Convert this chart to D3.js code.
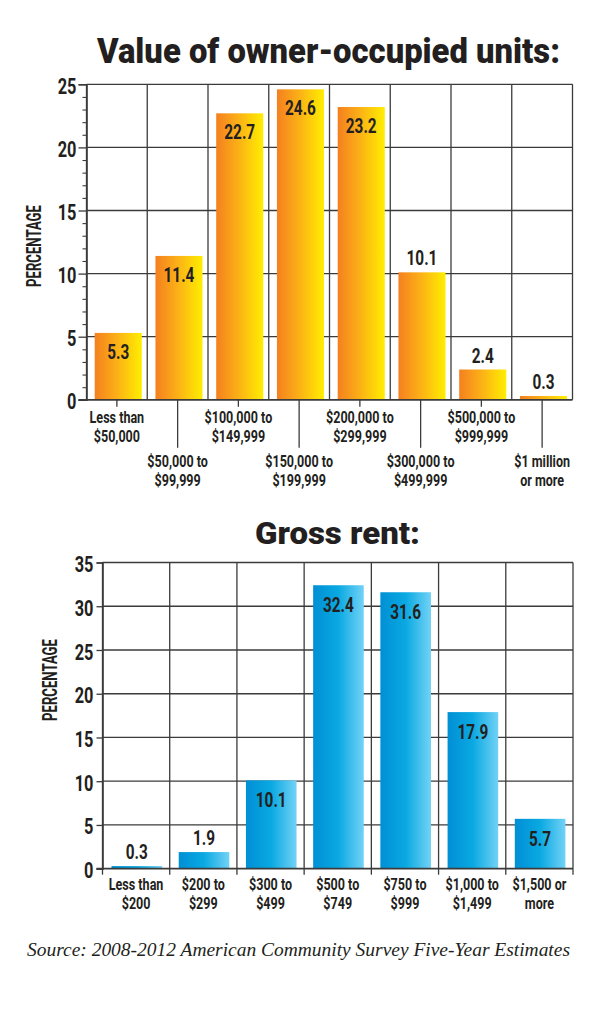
<!DOCTYPE html>
<html>
<head>
<meta charset="utf-8">
<script src="https://cdn.jsdelivr.net/npm/d3@7"></script>
<style>
  html, body { margin: 0; padding: 0; background: #fff; }
  svg { display: block; }
</style>
</head>
<body>
<svg id="chart" width="600" height="1009"></svg>
<script>
// ---------- DATA ----------
const ownerTitle = "Value of owner-occupied units:";
const ownerCategories = [
  "Less than|$50,000", "$50,000 to|$99,999", "$100,000 to|$149,999", "$150,000 to|$199,999",
  "$200,000 to|$299,999", "$300,000 to|$499,999", "$500,000 to|$999,999", "$1 million|or more"
];
const ownerValues = [5.3, 11.4, 22.7, 24.6, 23.2, 10.1, 2.4, 0.3];
const ownerLabelInside = [true, true, true, true, true, false, false, false];
const ownerTicks = [0, 5, 10, 15, 20, 25];
const ownerMinorTicks = d3.range(0, 26, 1);

const rentTitle = "Gross rent:";
const rentCategories = [
  "Less than|$200", "$200 to|$299", "$300 to|$499", "$500 to|$749",
  "$750 to|$999", "$1,000 to|$1,499", "$1,500 or|more"
];
const rentValues = [0.3, 1.9, 10.1, 32.4, 31.6, 17.9, 5.7];
const rentLabelInside = [false, false, true, true, true, true, true];
const rentTicks = [0, 5, 10, 15, 20, 25, 30, 35];

const axisTitle = "PERCENTAGE";
const sourceText = "Source: 2008-2012 American Community Survey Five-Year Estimates";

// ---------- STYLE ----------
const ink = "#231f20";
const gridColor = "#3b3b3b";
const condFont = "Roboto, 'Liberation Sans', Arial, sans-serif";

const svg = d3.select("#chart");
const defs = svg.append("defs");

function gradient(id, stops) {
  const g = defs.append("linearGradient").attr("id", id)
    .attr("x1", "0%").attr("x2", "100%").attr("y1", "0%").attr("y2", "0%");
  stops.forEach(s => g.append("stop").attr("offset", s[0]).attr("stop-color", s[1]));
}
gradient("orangeGrad", [["0%", "#f4801f"], ["45%", "#fbae17"], ["100%", "#ffee00"]]);
gradient("blueGrad", [["0%", "#008fd5"], ["50%", "#0aa9e2"], ["100%", "#72d2f6"]]);

function condense(sel, f) {
  sel.each(function () {
    const l = this.getComputedTextLength();
    this.setAttribute("textLength", l * f);
    this.setAttribute("lengthAdjust", "spacingAndGlyphs");
  });
}

function drawChart(cfg) {
  const g = svg.append("g");
  const x = d3.scaleBand().domain(cfg.categories).range([cfg.left, cfg.right]).padding(0);
  const y = d3.scaleLinear().domain([0, cfg.max]).range([cfg.bottom, cfg.top]);
  const bw = x.bandwidth();

  // title
  g.append("text")
    .attr("transform", `translate(${cfg.titleX},${cfg.titleY}) scale(1,${cfg.titleStretch})`)
    .attr("text-anchor", "middle")
    .attr("font-family", "Roboto, 'Liberation Sans', sans-serif")
    .attr("font-weight", 900)
    .attr("font-size", cfg.titleSize)
    .attr("fill", ink)
    .attr("textLength", cfg.titleLen)
    .attr("lengthAdjust", "spacingAndGlyphs")
    .text(cfg.title);

  // horizontal gridlines
  g.append("g").selectAll("line").data(cfg.ticks.filter(t => t > 0)).join("line")
    .attr("x1", cfg.left).attr("x2", cfg.right)
    .attr("y1", d => y(d)).attr("y2", d => y(d))
    .attr("stroke", gridColor).attr("stroke-width", 1.3);

  // vertical gridlines (band boundaries + right edge)
  const bounds = cfg.categories.map(c => x(c)).concat([cfg.right]);
  g.append("g").selectAll("line").data(bounds).join("line")
    .attr("x1", d => d).attr("x2", d => d)
    .attr("y1", cfg.top).attr("y2", cfg.bottom)
    .attr("stroke", gridColor).attr("stroke-width", 1.3);

  // minor ticks
  if (cfg.minorTicks) {
    const minorAxis = d3.axisLeft(y).tickValues(cfg.minorTicks.filter(t => cfg.ticks.indexOf(t) < 0))
      .tickSize(4).tickFormat("");
    const ma = g.append("g").attr("transform", `translate(${cfg.left},0)`).call(minorAxis);
    ma.select(".domain").remove();
    ma.selectAll("line").attr("stroke", gridColor).attr("stroke-width", 1.1);
  }

  // y axis
  const yAxis = d3.axisLeft(y).tickValues(cfg.ticks).tickSize(cfg.majorTick).tickPadding(cfg.tickPad);
  const ya = g.append("g").attr("transform", `translate(${cfg.left},0)`).call(yAxis);
  ya.select(".domain").attr("stroke", gridColor).attr("stroke-width", 1.6);
  ya.selectAll(".tick line").attr("stroke", gridColor).attr("stroke-width", 1.3);
  ya.selectAll(".tick text")
    .attr("font-family", condFont).attr("font-weight", 700)
    .attr("font-size", 21.5).attr("fill", ink).attr("dy", "0.42em")
    .call(condense, 0.76);

  // axis title
  g.append("text")
    .attr("transform", `translate(${cfg.axisTitleX},${cfg.axisTitleY}) rotate(-90)`)
    .attr("text-anchor", "middle")
    .attr("font-family", condFont).attr("font-weight", 700)
    .attr("font-size", 20).attr("fill", ink)
    .attr("textLength", 82).attr("lengthAdjust", "spacingAndGlyphs")
    .text(axisTitle);

  // bars
  const data = cfg.categories.map((c, i) => ({ c, v: cfg.values[i], inside: cfg.inside[i] }));
  g.append("g").selectAll("rect").data(data).join("rect")
    .attr("x", d => x(d.c) + bw * cfg.barOffset)
    .attr("width", bw * cfg.barWidth)
    .attr("y", d => y(d.v))
    .attr("height", d => y(0) - y(d.v))
    .attr("fill", cfg.fill);

  // x axis baseline
  g.append("line")
    .attr("x1", cfg.left - cfg.majorTick).attr("x2", cfg.right)
    .attr("y1", y(0)).attr("y2", y(0))
    .attr("stroke", gridColor).attr("stroke-width", 1.8);

  // value labels
  g.append("g").selectAll("text").data(data).join("text")
    .attr("x", d => x(d.c) + bw * (cfg.barOffset + cfg.barWidth / 2))
    .attr("y", d => d.inside ? y(d.v) + cfg.insideOffset : y(d.v) - 7)
    .attr("text-anchor", "middle")
    .attr("font-family", condFont).attr("font-weight", 700)
    .attr("font-size", 21).attr("fill", ink)
    .text(d => d3.format(".1f")(d.v))
    .call(condense, 0.73);

  // x ticks and category labels
  cfg.categories.forEach((c, i) => {
    const cx = x(c) + bw / 2;
    const lines = c.split("|");
    const lower = cfg.stagger && i % 2 === 1;
    if (cfg.stagger) {
      g.append("line")
        .attr("x1", cx).attr("x2", cx)
        .attr("y1", y(0)).attr("y2", y(0) + (lower ? 48 : 7))
        .attr("stroke", gridColor).attr("stroke-width", 1.3);
    }
    const base = lower ? cfg.labelY2 : cfg.labelY1;
    lines.forEach((ln, k) => {
      g.append("text")
        .attr("x", cx).attr("y", base + k * 18.5)
        .attr("text-anchor", "middle")
        .attr("font-family", condFont).attr("font-weight", 700)
        .attr("font-size", 16.5).attr("fill", ink)
        .text(ln)
        .call(condense, 0.76);
    });
  });
  if (!cfg.stagger) {
    g.append("g").selectAll("line").data(bounds).join("line")
      .attr("x1", d => d).attr("x2", d => d)
      .attr("y1", y(0)).attr("y2", y(0) + 6)
      .attr("stroke", gridColor).attr("stroke-width", 1.3);
  }
}

drawChart({
  title: ownerTitle, titleX: 328.5, titleY: 62.5, titleSize: 31, titleStretch: 1.15, titleLen: 463,
  categories: ownerCategories, values: ownerValues, inside: ownerLabelInside,
  ticks: ownerTicks, minorTicks: ownerMinorTicks, max: 25,
  left: 86.5, right: 572.5, top: 84.3, bottom: 399.8,
  majorTick: 8, tickPad: 2,
  axisTitleX: 41, axisTitleY: 246,
  barOffset: 0.135, barWidth: 0.775, insideOffset: 26,
  fill: "url(#orangeGrad)",
  stagger: true, labelY1: 423, labelY2: 467
});

drawChart({
  title: rentTitle, titleX: 337.5, titleY: 544, titleSize: 29, titleStretch: 1.08, titleLen: 165,
  categories: rentCategories, values: rentValues, inside: rentLabelInside,
  ticks: rentTicks, minorTicks: null, max: 35,
  left: 102.5, right: 573, top: 562.5, bottom: 868.7,
  majorTick: 6, tickPad: 3,
  axisTitleX: 57, axisTitleY: 680,
  barOffset: 0.134, barWidth: 0.753, insideOffset: 27,
  fill: "url(#blueGrad)",
  stagger: false, labelY1: 890, labelY2: 890
});

// source
svg.append("text")
  .attr("x", 27).attr("y", 956)
  .attr("font-family", "'Liberation Serif', 'DejaVu Serif', serif")
  .attr("font-style", "italic")
  .attr("font-size", 19).attr("fill", ink)
  .attr("textLength", 543).attr("lengthAdjust", "spacingAndGlyphs")
  .text(sourceText);
</script>
</body>
</html>
